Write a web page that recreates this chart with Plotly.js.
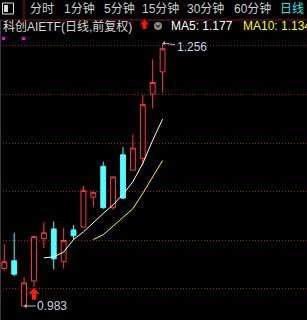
<!DOCTYPE html>
<html>
<head>
<meta charset="utf-8">
<script src="https://cdn.plot.ly/plotly-3.0.1.min.js"></script>
<style>
html,body{margin:0;padding:0;background:#000;overflow:hidden;}
#chart{width:307px;height:320px;}
</style>
</head>
<body>
<div id="chart"></div>
<script>
// ---- data ----
const days  = [0,1,2,3,4,5,6,7,8,9,10,11,12,13,14,15,16];
const open  = [1.022,1.030,0.983,1.009,1.053,1.063,1.029,1.062,1.065,1.096,1.128,1.085,1.140,1.124,1.136,1.203,1.226];
const high  = [1.047,1.059,1.013,1.056,1.070,1.071,1.064,1.067,1.108,1.101,1.133,1.117,1.148,1.161,1.202,1.239,1.256];
const low   = [1.020,1.014,0.983,1.003,1.043,1.021,1.022,1.052,1.065,1.086,1.084,1.083,1.094,1.124,1.129,1.188,1.205];
const close = [1.029,1.016,1.007,1.055,1.059,1.032,1.051,1.056,1.103,1.101,1.085,1.117,1.095,1.147,1.192,1.215,1.250];
const ma5   = [null,null,null,null,1.033,1.034,1.039,1.052,1.060,1.070,1.079,1.088,1.099,1.112,1.131,1.155,1.177];
const ma10  = [null,null,null,null,null,null,null,null,null,1.052,1.057,1.066,1.075,1.084,1.100,1.117,1.134];
const buySignals = [3];
const tabLabels = ['分时','1分钟','5分钟','15分钟','30分钟','60分钟','日线'];
const titleText = '科创AIETF(日线,前复权)';
const ma5Label = 'MA5: ' + ma5[ma5.length-1].toFixed(3);
const ma10Label = 'MA10: ' + ma10[ma10.length-1].toFixed(3);

// ---- helpers ----
const W = 307, H = 320;
const px = x => x / W;
const py = y => (H - y) / H;
const FONT = 'Liberation Sans, Arial, Noto Sans CJK SC, sans-serif';

const traces = [
  {
    type: 'candlestick', x: days, open: open, high: high, low: low, close: close,
    increasing: {line: {color: '#ff3a3a', width: 1}, fillcolor: '#000000'},
    decreasing: {line: {color: '#54fcfc', width: 1}, fillcolor: '#54fcfc'},
    whiskerwidth: 0, hoverinfo: 'skip', showlegend: false
  },
  {type: 'scatter', mode: 'lines', x: days, y: ma5, line: {color: '#ffffff', width: 1}, hoverinfo: 'skip', showlegend: false},
  {type: 'scatter', mode: 'lines', x: days, y: ma10, line: {color: '#ffff00', width: 1}, hoverinfo: 'skip', showlegend: false}
];

// high / low markers
let hiIdx = 0, loIdx = 0;
high.forEach((v,i)=>{ if (v > high[hiIdx]) hiIdx = i; });
low.forEach((v,i)=>{ if (v < low[loIdx]) loIdx = i; });

const annotations = [];
const tabX = [28, 62, 102, 140, 185, 232, 278];
tabLabels.forEach((t,i)=>{
  annotations.push({xref:'paper', yref:'paper', x: px(tabX[i]), y: py(9), xanchor:'left', yanchor:'middle',
    text: t, showarrow:false, font:{family:FONT, size:12, color: i === tabLabels.length-1 ? '#3ce0e0' : '#cfcfcf'}});
});
annotations.push({xref:'paper', yref:'paper', x: px(1), y: py(26), xanchor:'left', yanchor:'middle',
  text: titleText, showarrow:false, font:{family:FONT, size:12, color:'#d8d8d8'}});
annotations.push({xref:'paper', yref:'paper', x: px(169), y: py(26), xanchor:'left', yanchor:'middle',
  text: ma5Label, showarrow:false, font:{family:FONT, size:12, color:'#ffffff'}});
annotations.push({xref:'paper', yref:'paper', x: px(241), y: py(26), xanchor:'left', yanchor:'middle',
  text: ma10Label, showarrow:false, font:{family:FONT, size:12, color:'#ffff00'}});
annotations.push({x: hiIdx, y: high[hiIdx], text: high[hiIdx].toFixed(3), showarrow:true, ax: 29, ay: 4,
  arrowhead: 1, arrowsize: 0.8, arrowwidth: 1, arrowcolor:'#bbbbbb', standoff: 0,
  font:{family:FONT, size:12, color:'#c8d2e6'}});
annotations.push({x: loIdx, y: low[loIdx], text: low[loIdx].toFixed(3), showarrow:true, ax: 28, ay: 0,
  arrowhead: 1, arrowsize: 0.8, arrowwidth: 1, arrowcolor:'#bbbbbb', standoff: 0,
  font:{family:FONT, size:12, color:'#c8d2e6'}});

const shapes = [
  // toolbar lines
  {type:'line', xref:'paper', yref:'paper', x0:0, x1:1, y0:py(20), y1:py(20), line:{color:'#8c1414', width:1}},
  {type:'line', xref:'paper', yref:'paper', x0:px(24), x1:px(24), y0:py(20), y1:1, line:{color:'#8c1414', width:1}},
  {type:'line', xref:'paper', yref:'paper', x0:px(0.5), x1:px(0.5), y0:0, y1:py(20), line:{color:'#3a3a3a', width:1}},
  // icon
  {type:'rect', xref:'paper', yref:'paper', x0:px(2.5), x1:px(13.5), y0:py(14), y1:py(3), line:{color:'#e0e0e0', width:1}, fillcolor:'rgba(0,0,0,0)'},
  {type:'rect', xref:'paper', yref:'paper', x0:px(4), x1:px(8), y0:py(12), y1:py(5), line:{width:0}, fillcolor:'#d8d8d8'},
  // header red arrow
  {type:'path', xref:'paper', yref:'paper', xsizemode:'pixel', ysizemode:'pixel', xanchor:px(144.5), yanchor:py(24.5),
   path:'M0,5 L4.5,0 L2,0 L2,-4.5 L-2,-4.5 L-2,0 L-4.5,0 Z', fillcolor:'#ff1010', line:{width:0}},
  // gray circle with chevron
  {type:'circle', xref:'paper', yref:'paper', x0:px(154), x1:px(162), y0:py(30), y1:py(22), fillcolor:'#8a8a8a', line:{width:0}},
  {type:'path', xref:'paper', yref:'paper', xsizemode:'pixel', ysizemode:'pixel', xanchor:px(158), yanchor:py(26),
   path:'M-2,1 L0,-1 L2,1', line:{color:'#222222', width:1.2}},
  // magenta markers
  {type:'rect', xref:'paper', yref:'paper', x0:px(2), x1:px(5), y0:py(40), y1:py(37), fillcolor:'#ff00ff', line:{width:0}},
  {type:'rect', xref:'paper', yref:'paper', x0:px(22), x1:px(25), y0:py(40), y1:py(37), fillcolor:'#ff00ff', line:{width:0}}
];
// buy signal arrows below candle lows
buySignals.forEach(i=>{
  shapes.push({type:'path', xref:'x', yref:'y', xsizemode:'pixel', ysizemode:'pixel', xanchor:i, yanchor:low[i],
    path:'M0,-1 L5.5,-7 L2,-7 L2,-13 L-2,-13 L-2,-7 L-5.5,-7 Z', fillcolor:'#ff1a1a', line:{width:0}});
});

const layout = {
  width: W, height: H,
  margin: {l:0, r:0, t:0, b:0, pad:0},
  paper_bgcolor:'#000000', plot_bgcolor:'#000000',
  showlegend:false,
  hovermode:false,
  xaxis: {domain:[0,1], range:[-0.435, 30.6], showgrid:false, zeroline:false, showticklabels:false,
          showline:false, ticks:'', rangeslider:{visible:false}, fixedrange:true},
  yaxis: {domain:[0, 280/320], range:[0.9685, 1.2591], tickmode:'array',
          tickvals:[1.0012, 1.0515, 1.1018, 1.1522, 1.2025, 1.2529],
          showticklabels:false, ticks:'', showgrid:true, gridcolor:'#a82020', gridwidth:1, griddash:'1px,2px',
          zeroline:false, showline:false, fixedrange:true},
  annotations: annotations,
  shapes: shapes
};

Plotly.newPlot('chart', traces, layout, {staticPlot:true, displayModeBar:false});
</script>
</body>
</html>
